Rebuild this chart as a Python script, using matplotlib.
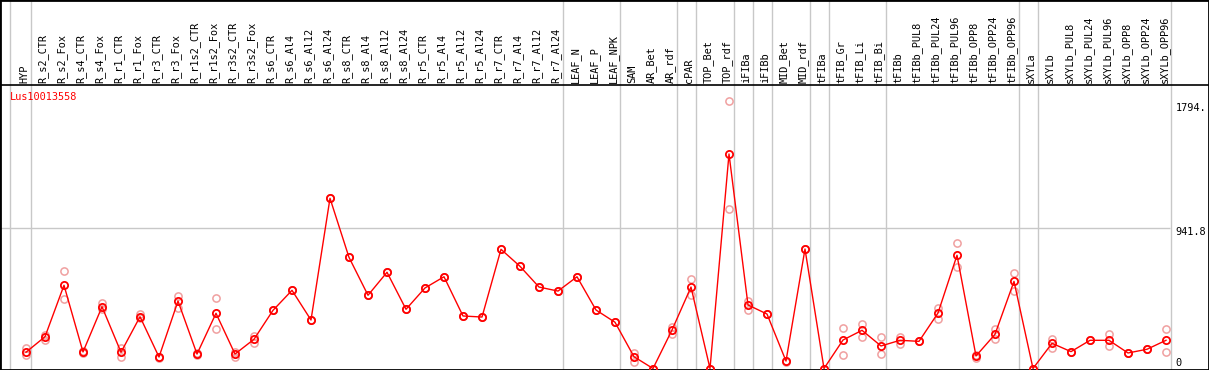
import matplotlib
matplotlib.use("Agg")
import matplotlib.pyplot as plt
import numpy as np

gene = "Lus10013558"
samples = ["HYP", "R_s2_CTR", "R_s2_Fox", "R_s4_CTR", "R_s4_Fox", "R_r1_CTR", "R_r1_Fox",
           "R_r3_CTR", "R_r3_Fox", "R_r1s2_CTR", "R_r1s2_Fox", "R_r3s2_CTR", "R_r3s2_Fox",
           "R_s6_CTR", "R_s6_Al4", "R_s6_Al12", "R_s6_Al24", "R_s8_CTR", "R_s8_Al4",
           "R_s8_Al12", "R_s8_Al24", "R_r5_CTR", "R_r5_Al4", "R_r5_Al12", "R_r5_Al24",
           "R_r7_CTR", "R_r7_Al4", "R_r7_Al12", "R_r7_Al24", "LEAF_N", "LEAF_P", "LEAF_NPK",
           "SAM", "AR_Bet", "AR_rdf", "cPAR", "TOP_Bet", "TOP_rdf", "iFIBa", "iFIBb",
           "MID_Bet", "MID_rdf", "tFIBa", "tFIB_Gr", "tFIB_Li", "tFIB_Bi", "tFIBb",
           "tFIBb_PUL8", "tFIBb_PUL24", "tFIBb_PUL96", "tFIBb_OPP8", "tFIBb_OPP24",
           "tFIBb_OPP96", "sXYLa", "sXYLb", "sXYLb_PUL8", "sXYLb_PUL24", "sXYLb_PUL96",
           "sXYLb_OPP8", "sXYLb_OPP24", "sXYLb_OPP96"]

mean_values = [109, 213, 558, 111, 414, 109, 347, 77, 452, 97, 370, 97, 196,
               390, 524, 325, 1141, 745, 491, 645, 397, 540, 615, 352, 345,
               799, 685, 546, 519, 615, 392, 310,
               79, 0, 258, 546, 0, 1438, 426, 365, 50, 801,
               0, 191, 256, 151, 189, 182, 372, 759, 84, 229, 584,
               0, 169, 113, 189, 189, 104, 129, 189]

rep1_values = [139, 225, 654, 119, 437, 139, 363, 79, 486, 102, 471, 113, 220,
               390, 524, 325, 1141, 745, 491, 645, 397, 540, 615, 352, 345,
               799, 685, 546, 519, 615, 392, 310,
               106, 0, 276, 600, 0, 1794, 454, 365, 50, 801,
               0, 269, 298, 209, 209, 182, 408, 839, 90, 267, 638,
               0, 196, 113, 189, 231, 104, 129, 265]

rep2_values = [90, 191, 466, 102, 397, 79, 336, 72, 408, 90, 265, 79, 169,
               390, 524, 325, 1141, 745, 491, 645, 397, 540, 615, 352, 345,
               799, 685, 546, 519, 615, 392, 310,
               46, 0, 231, 493, 0, 1069, 392, 365, 45, 801,
               0, 90, 209, 97, 164, 182, 330, 678, 72, 196, 522,
               0, 139, 113, 189, 151, 104, 129, 109]

group_ends = [0, 28, 31, 34, 35, 37, 38, 39, 41, 42, 45, 52, 53, 60]
y_ticks = [1794, 941.8, 0]
y_tick_labels = ["1794.", "941.8", "0"]

W, H = 1209, 370
fig = plt.figure(figsize=(W / 100, H / 100), dpi=100)
ax = fig.add_axes([0, 0, 1, 1])

# pixel mapping: index i -> 26 + 19 i ; value 0 -> y 368.5, 941.8 -> y 228
px_per_idx = 19.0
x0 = 26.0
vpp = 941.8 / (368.5 - 228.0)
ax.set_xlim((0 - x0) / px_per_idx, (W - x0) / px_per_idx)
ax.set_ylim(-(H - 368.5) * vpp, 368.5 * vpp)
ax.set_xticks([])
ax.set_yticks([])
for s in ax.spines.values():
    s.set_color("black")
    s.set_linewidth(2)

n = len(samples)
idx = np.arange(n)
right_edge = n - 1 + 0.22
header_y = (368.5 - 85) * vpp
label_y = (368.5 - 83) * vpp

# vertical separators
ax.axvline(-0.84, color="#c8c8c8", lw=1, zorder=1)
for g in group_ends:
    ax.axvline(g + 0.24, color="#c8c8c8", lw=1, zorder=1)

# header separator and grid
ax.axhline(header_y, color="black", lw=1.2, zorder=2)
ax.hlines(941.8, ax.get_xlim()[0], right_edge, color="#c8c8c8", lw=1, zorder=1)

# sample labels
for i, s in enumerate(samples):
    ax.text(i - 0.1, label_y, s, rotation=90, ha="center", va="bottom",
            family="DejaVu Sans Mono", fontsize=7.4, color="black")

# gene name
ax.text(-0.84, (368.5 - 97) * vpp, gene, color="red", family="DejaVu Sans Mono",
        fontsize=7.4, ha="left", va="center")

# right labels (downward pixel shift of each label relative to its level)
shift_px = [7, 4, -6]
for v, t, o in zip(y_ticks, y_tick_labels, shift_px):
    ax.annotate(t, xy=(right_edge, v), xytext=(4, -o * 0.72), textcoords="offset points",
                ha="left", va="center", family="DejaVu Sans Mono", fontsize=7.4,
                color="black", annotation_clip=False)

# replicates
ax.plot(idx, rep1_values, ls="none", marker="o", ms=5.2, mfc="none", mec="#f0a0a0",
        mew=1.1, zorder=3, clip_on=False)
ax.plot(idx, rep2_values, ls="none", marker="o", ms=5.2, mfc="none", mec="#f0a0a0",
        mew=1.1, zorder=3, clip_on=False)
# mean line
ax.plot(idx, mean_values, color="red", lw=1, marker="o", ms=5.2, mfc="none",
        mec="red", mew=1.3, zorder=4, clip_on=False)

fig.savefig("out.png", dpi=100)
